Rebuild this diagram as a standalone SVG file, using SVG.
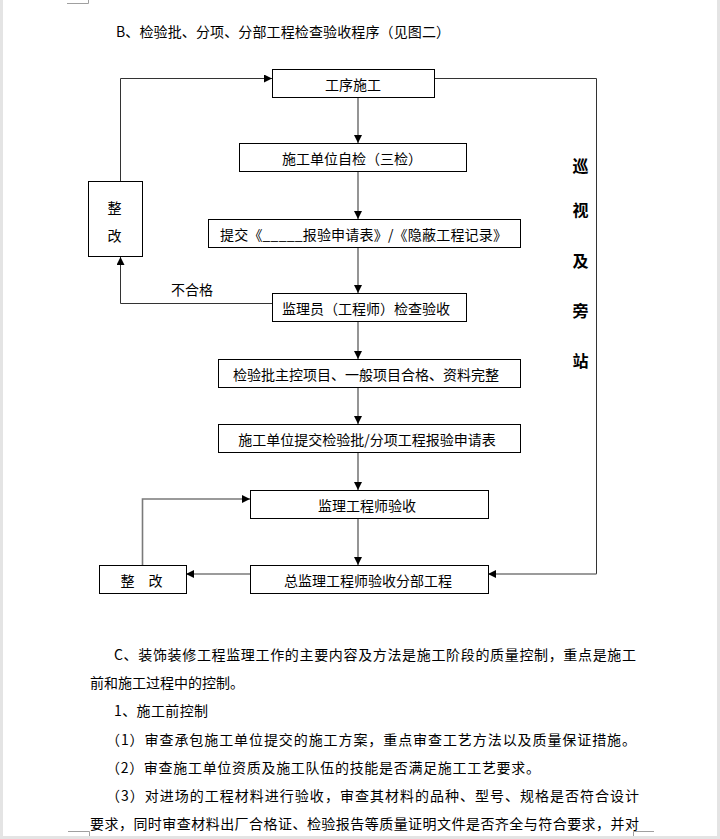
<svg xmlns="http://www.w3.org/2000/svg" width="720" height="839" viewBox="0 0 720 839">
<style>
  .box rect { fill: #ffffff; stroke: #000000; stroke-width: 1; }
  .t { font-family: "Noto Sans CJK SC", "Liberation Sans", sans-serif; font-size: 14px; fill: #000000; }
  .c { text-anchor: middle; dominant-baseline: central; }
  .v { font-family: "Noto Sans CJK SC", sans-serif; font-size: 16px; font-weight: bold; text-anchor: middle; dominant-baseline: central; fill: #000; }
  .gray { fill: none; stroke: #7a7a7a; stroke-width: 1.6; }
  .dark { fill: none; stroke: #333333; stroke-width: 1; }
  .mark { fill: none; stroke: #a0a0a0; stroke-width: 1; }
</style>
<defs>
  <marker id="ah" viewBox="0 0 8 8" refX="8" refY="4" markerWidth="8" markerHeight="8" markerUnits="userSpaceOnUse" orient="auto">
    <path d="M0,0 L8,4 L0,8 Z" fill="#000000"/>
  </marker>
</defs>
<rect x="0" y="0" width="720" height="839" fill="#ffffff"/>
<rect x="0" y="0" width="3" height="839" fill="#e4e4e4"/>
<rect x="717" y="0" width="3" height="839" fill="#e4e4e4"/>
<rect x="0" y="836" width="720" height="3" fill="#e4e4e4"/>
<path class="mark" d="M67,3.5 H88.5 V0"/>
<path class="mark" d="M68,831.5 H89.5 V836"/>
<path class="mark" d="M633.5,836 V831.5 H654"/>

<text class="t" x="116" y="37" textLength="334" lengthAdjust="spacing">B、检验批、分项、分部工程检查验收程序（见图二）</text>

<g id="connectors">
  <path class="gray" d="M358,97 V143" marker-end="url(#ah)"/>
  <path class="gray" d="M358,171 V219" marker-end="url(#ah)"/>
  <path class="gray" d="M358,247 V293" marker-end="url(#ah)"/>
  <path class="gray" d="M358,321 V359" marker-end="url(#ah)"/>
  <path class="gray" d="M358,387 V424" marker-end="url(#ah)"/>
  <path class="gray" d="M358,452 V490" marker-end="url(#ah)"/>
  <path class="gray" d="M358,518 V565" marker-end="url(#ah)"/>
  <path class="dark" d="M272,303.5 H120.5 V257" marker-end="url(#ah)"/>
  <path class="dark" d="M120.5,181 V78.5 H272" marker-end="url(#ah)"/>
  <path class="dark" d="M434,78.5 H596.5 V574"/>
  <path class="gray" d="M596.5,574 H488" marker-end="url(#ah)"/>
  <path class="gray" d="M250,574 H186" marker-end="url(#ah)"/>
  <path class="gray" d="M142.5,565 V499 H250" marker-end="url(#ah)"/>
  <text class="t c" x="192" y="289">不合格</text>
</g>

<g id="n1" class="box"><rect x="272.5" y="69.5" width="162" height="28"/><text class="t c" x="353" y="83.5">工序施工</text></g>
<g id="n2" class="box"><rect x="239.5" y="143.5" width="227" height="28"/><text class="t c" x="352" y="157.5">施工单位自检（三检）</text></g>
<g id="n3" class="box"><rect x="208.5" y="219.5" width="312" height="28"/><text class="t" x="220" y="233.5" dominant-baseline="central" textLength="287" lengthAdjust="spacing">提交《_____报验申请表》/《隐蔽工程记录》</text></g>
<g id="n4" class="box"><rect x="272.5" y="293.5" width="194" height="28"/><text class="t c" x="366" y="307.5">监理员（工程师）检查验收</text></g>
<g id="n5" class="box"><rect x="218.5" y="359.5" width="302" height="28"/><text class="t c" x="366" y="373.5">检验批主控项目、一般项目合格、资料完整</text></g>
<g id="n6" class="box"><rect x="218.5" y="424.5" width="302" height="28"/><text class="t c" x="367" y="438.5">施工单位提交检验批/分项工程报验申请表</text></g>
<g id="n7" class="box"><rect x="250.5" y="490.5" width="238" height="28"/><text class="t c" x="367" y="504.5">监理工程师验收</text></g>
<g id="n8" class="box"><rect x="250.5" y="565.5" width="238" height="28"/><text class="t c" x="368" y="579.5">总监理工程师验收分部工程</text></g>
<g id="n9" class="box"><rect x="88.5" y="181.5" width="54" height="75"/><text class="t c" x="114.5" y="206.5">整</text><text class="t c" x="114.5" y="235">改</text></g>
<g id="n10" class="box"><rect x="99.5" y="565.5" width="87" height="28"/><text class="t c" y="579.5"><tspan x="127.5">整</tspan><tspan x="155.5">改</tspan></text></g>
<g id="n11">
  <text class="v" x="580.5" y="165">巡</text>
  <text class="v" x="580.5" y="209">视</text>
  <text class="v" x="580.5" y="260">及</text>
  <text class="v" x="580.5" y="310">旁</text>
  <text class="v" x="580.5" y="360">站</text>
</g>

<g id="body">
  <text class="t" x="114" y="660" textLength="522" lengthAdjust="spacing">C、装饰装修工程监理工作的主要内容及方法是施工阶段的质量控制，重点是施工</text>
  <text class="t" x="90" y="688" textLength="154" lengthAdjust="spacing">前和施工过程中的控制。</text>
  <text class="t" x="114" y="716" textLength="94" lengthAdjust="spacing">1、施工前控制</text>
  <text class="t" x="106" y="745" textLength="530" lengthAdjust="spacing">（1）审查承包施工单位提交的施工方案，重点审查工艺方法以及质量保证措施。</text>
  <text class="t" x="106" y="773" textLength="434" lengthAdjust="spacing">（2）审查施工单位资质及施工队伍的技能是否满足施工工艺要求。</text>
  <text class="t" x="106" y="801" textLength="533" lengthAdjust="spacing">（3）对进场的工程材料进行验收，审查其材料的品种、型号、规格是否符合设计</text>
  <text class="t" x="90" y="829" textLength="549" lengthAdjust="spacing">要求，同时审查材料出厂合格证、检验报告等质量证明文件是否齐全与符合要求，并对</text>
</g>
</svg>
